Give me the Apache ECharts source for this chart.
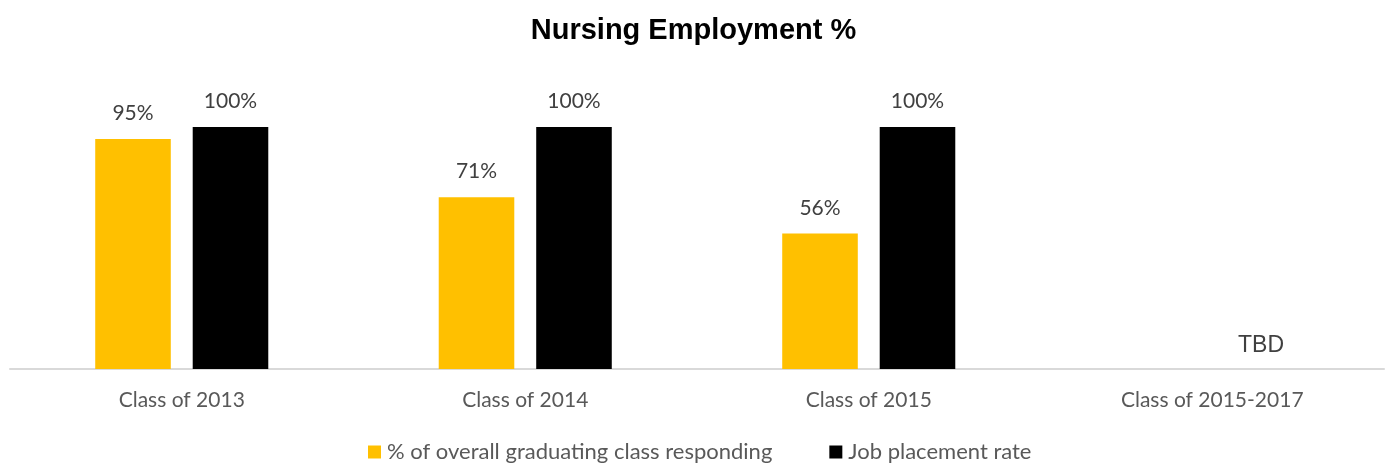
<!DOCTYPE html>
<html><head><meta charset="utf-8">
<script src="https://cdn.jsdelivr.net/npm/echarts@6/dist/echarts.min.js"></script>
<style>html,body{margin:0;padding:0;background:#fff}#c{width:1387px;height:464px}</style>
</head><body><div id="c"></div>
<script>
const categories = ['Class of 2013', 'Class of 2014', 'Class of 2015', 'Class of 2015-2017'];
const responding = [95, 71, 56, null];
const placement = [100, 100, 100, 0];
const seriesNames = ['% of overall graduating class responding', 'Job placement rate'];
const placementLabels = ['100%', '100%', '100%', 'TBD'];

const chart = echarts.init(document.getElementById('c'));
const labelFont = 'Lato, "Open Sans", sans-serif';
const arial = '"Liberation Sans", Arial, sans-serif';
chart.setOption({
  animation: false,
  title: {
    text: 'Nursing Employment %',
    left: 'center', top: 11,
    textStyle: { fontFamily: arial, fontSize: 29, fontWeight: 'bold', color: '#000' }
  },
  legend: {
    top: 441, left: 368, padding: 0,
    itemWidth: 13, itemHeight: 13, itemGap: 57,
    icon: 'rect',
    textStyle: { fontFamily: labelFont, fontSize: 22, color: '#595959', padding: [0, 0, 0, 1] },
    data: seriesNames
  },
  grid: { left: 10, right: 3, top: 127, bottom: 95, containLabel: false },
  xAxis: {
    type: 'category', data: categories,
    axisLine: { lineStyle: { color: '#d9d9d9', width: 2 } },
    axisTick: { show: false },
    axisLabel: { fontFamily: labelFont, fontSize: 21, color: '#595959', margin: 21 }
  },
  yAxis: { type: 'value', min: 0, max: 100, show: false, splitLine: { show: false } },
  series: [
    {
      name: seriesNames[0], type: 'bar', data: responding,
      barWidth: '22%', barGap: '29%',
      itemStyle: { color: '#FFC000' },
      label: { show: true, position: 'top', distance: 15, formatter: p => p.value + '%',
        fontFamily: labelFont, fontSize: 21, color: '#404040' }
    },
    {
      name: seriesNames[1], type: 'bar',
      data: placement.map((v, i) => placementLabels[i] === 'TBD'
        ? { value: v, label: { fontFamily: arial, fontSize: 23, distance: 12 } } : v),
      barWidth: '22%',
      itemStyle: { color: '#000000' },
      label: { show: true, position: 'top', distance: 15,
        formatter: p => placementLabels[p.dataIndex],
        fontFamily: labelFont, fontSize: 21, color: '#404040' }
    }
  ]
});
</script></body></html>
